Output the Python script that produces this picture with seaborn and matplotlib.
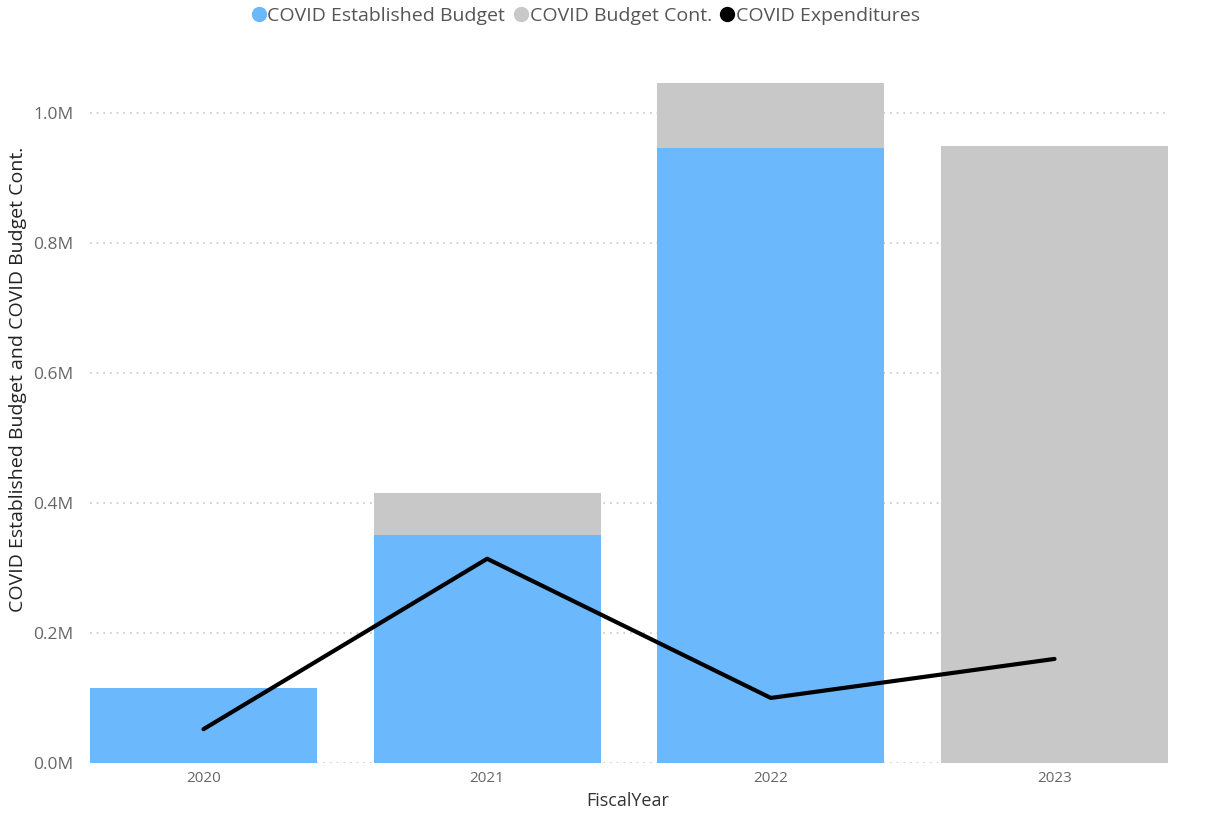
import numpy as np
import pandas as pd
import matplotlib
matplotlib.use("Agg")
import matplotlib.pyplot as plt
from matplotlib.lines import Line2D
from matplotlib.ticker import FuncFormatter
import seaborn as sns

# Budget data by fiscal year (values in dollars)
years = ["2020", "2021", "2022", "2023"]
established_budget = [115_000, 351_000, 945_000, 0]
budget_cont = [0, 64_000, 101_000, 948_000]
expenditures = [52_000, 314_000, 100_000, 160_000]

blue = "#6CB8FD"
gray = "#C8C8C8"

df = pd.DataFrame({
    "FiscalYear": years,
    "Established": established_budget,
    "Cont": budget_cont,
    "Expenditures": expenditures,
})
df["Total"] = df["Established"] + df["Cont"]

sns.set_theme(style="white")
plt.rcParams["font.family"] = ["Open Sans", "DejaVu Sans"]

fig = plt.figure(figsize=(12.12, 8.18), dpi=100)
ax = fig.add_axes([90 / 1212, 1 - 763 / 818, (1168 - 90) / 1212, (763 - 80) / 818])

# Stacked bars: gray total underneath, blue established budget in front
sns.barplot(data=df, x="FiscalYear", y="Total", color=gray, width=0.8,
            saturation=1, ax=ax, zorder=2, linewidth=0, edgecolor="none")
sns.barplot(data=df, x="FiscalYear", y="Established", color=blue, width=0.8,
            saturation=1, ax=ax, zorder=3, linewidth=0, edgecolor="none")

# Expenditure line across the category positions
sns.lineplot(x=np.arange(len(years)), y=df["Expenditures"], color="black",
             linewidth=3, ax=ax, zorder=4, solid_capstyle="round")

ax.set_xlim(-0.4, len(years) - 0.6)
ax.set_ylim(0, 1_050_000)
ax.set_yticks(np.arange(0, 1_000_001, 200_000))
ax.yaxis.set_major_formatter(FuncFormatter(lambda v, p: f"{v / 1e6:.1f}M"))
ax.grid(axis="y", linestyle=(0, (1, 3)), color="#C8C8C8", linewidth=1.2, zorder=0)
ax.grid(axis="x", visible=False)
for s in ax.spines.values():
    s.set_visible(False)

ax.tick_params(axis="y", labelsize=12.5, labelcolor="#666666", length=0, pad=12)
ax.tick_params(axis="x", labelsize=11, labelcolor="#666666", length=0, pad=6)

ax.set_xlabel("FiscalYear", fontsize=13, color="#333333")
ax.xaxis.set_label_coords((628 - 90) / 1078, -(792 - 763) / 683)
ax.set_ylabel("COVID Established Budget and COVID Budget Cont.", fontsize=14,
              color="#222222")
ax.yaxis.set_label_coords(-(90 - 27) / 1078, (763 - 379) / 683)

# Legend across the top of the figure
handles = [
    Line2D([], [], marker="o", linestyle="", color=blue, markersize=10),
    Line2D([], [], marker="o", linestyle="", color=gray, markersize=10),
    Line2D([], [], marker="o", linestyle="", color="black", markersize=10),
]
labels = ["COVID Established Budget", "COVID Budget Cont.", "COVID Expenditures"]
fig.legend(handles, labels, loc="center", bbox_to_anchor=(585 / 1212, 1 - 16 / 818),
           ncol=3, frameon=False, fontsize=14, handletextpad=0.0,
           columnspacing=0.35, handlelength=0.9, labelcolor="#555555")

fig.savefig("out.png", dpi=100, facecolor="white")
